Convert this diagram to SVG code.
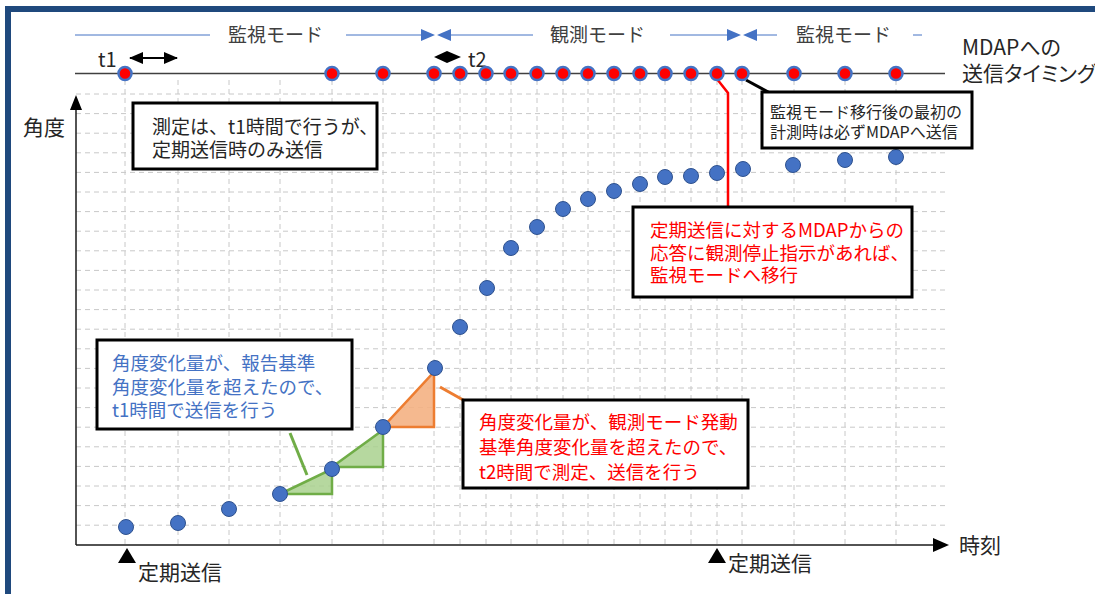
<svg xmlns="http://www.w3.org/2000/svg" width="1095" height="594" viewBox="0 0 1095 594">
<style>
text{font-family:"Noto Sans CJK JP","Noto Sans",sans-serif;}
.grid{stroke:#C8C8C8;stroke-width:1;stroke-dasharray:5 4;fill:none;}
.axis{stroke:#1a1a1a;stroke-width:1.5;fill:none;}
.mode{stroke:#4472C4;stroke-width:1;fill:none;}
.modearr{fill:#4472C4;}
.lbl{fill:#404040;font-size:19px;}
.box{fill:#fff;stroke:#000;stroke-width:3;}
.bd{fill:#4472C4;stroke:#2F528F;stroke-width:1;}
.rd{fill:#FF0000;stroke:#4472C4;stroke-width:2.5;}
.red{fill:#FF0000;font-size:18.5px;}
.blue{fill:#4472C4;font-size:18.5px;}
.blk{fill:#262626;}
</style>
<defs>
<marker id="ah" viewBox="0 0 14 12" refX="13" refY="6" markerWidth="14" markerHeight="12" markerUnits="userSpaceOnUse" orient="auto-start-reverse"><path d="M0,0 L14,6 L0,12 Z" fill="#000"/></marker>
</defs>
<g id="frame">
<rect x="5" y="6" width="1090" height="6" fill="#1F497D"/>
<rect x="5" y="6" width="6" height="588" fill="#1F497D"/>
</g>
<g id="grid">
<path class="grid" d="M76,94H947 M76,113.6H947 M76,133.2H947 M76,152.8H947 M76,172.4H947 M76,192H947 M76,211.6H947 M76,231.2H947 M76,250.8H947 M76,270.4H947 M76,290H947 M76,309.6H947 M76,329.2H947 M76,348.8H947 M76,368.4H947 M76,388H947 M76,407.6H947 M76,427.2H947 M76,446.8H947 M76,466.4H947 M76,486H947 M76,505.6H947 M76,525.2H947"/>
<path class="grid" d="M125,80V545 M178,80V545 M229,80V545 M280,80V545 M332,80V545 M383,80V545 M434,80V545 M460,80V545 M486,80V545 M511,80V545 M537,80V545 M563,80V545 M588,80V545 M614,80V545 M640,80V545 M665,80V545 M691,80V545 M717,80V545 M742,80V545 M794,80V545 M845,80V545 M896,80V545"/>
</g>
<g id="axes">
<path class="axis" d="M76,545V108"/>
<path d="M76,95 L70,110 L82,110 Z" fill="#000"/>
<path class="axis" d="M76,545H934"/>
<path d="M949,545 L933,538 L933,552 Z" fill="#000"/>
<path d="M75,73.5H945" stroke="#404040" stroke-width="1.5" fill="none"/>
</g>
<g id="modes">
<path class="mode" d="M75,35H210 M346,35H422 M450,35H533 M670,35H728 M756,35H777 M913,35H922"/>
<path class="modearr" d="M435,35 L421,29 L421,41 Z M437,35 L451,29 L451,41 Z M741,35 L727,29 L727,41 Z M743,35 L757,29 L757,41 Z"/>
<text class="lbl" x="228" y="42">監視モード</text>
<text class="lbl" x="550" y="42">観測モード</text>
<text class="lbl" x="796" y="42">監視モード</text>
</g>
<g id="t1">
<path d="M130,58H177" stroke="#000" stroke-width="2" marker-start="url(#ah)" marker-end="url(#ah)"/>
<text class="blk" x="98" y="67" font-size="20">t1</text>
</g>
<g id="t2">
<path d="M434,57 L447,51 L461,57 L447,63 Z" fill="#000"/>
<text class="blk" x="468" y="67" font-size="20">t2</text>
</g>
<g id="timing-label">
<text class="blk" x="962" y="55" font-size="21" style="font-feature-settings:'palt'">MDAPへの</text>
<text class="blk" x="962" y="81" font-size="21" style="font-feature-settings:'palt'">送信タイミング</text>
</g>
<g id="triangles">
<path d="M280,494 L332,494 L332,469 Z" fill="#A9D18E" fill-opacity="0.85" stroke="#70AD47" stroke-width="2.5"/>
<path d="M332,467 L383,467 L383,430 Z" fill="#A9D18E" fill-opacity="0.85" stroke="#70AD47" stroke-width="2.5"/>
<path d="M383,427 L434,427 L434,372 Z" fill="#F4B183" fill-opacity="0.9" stroke="#ED7D31" stroke-width="2.5"/>
</g>
<g id="connectors">
<path d="M717,79 L728,93 L728,207" stroke="#FF0000" stroke-width="2.5" fill="none"/>
<path d="M746,80 L772,94" stroke="#000" stroke-width="3" fill="none"/>
<path d="M290,433 L307,475" stroke="#70AD47" stroke-width="3" fill="none"/>
<path d="M440,387 L465,401" stroke="#ED7D31" stroke-width="3" fill="none"/>
</g>
<g id="timing-dots">
<circle class="rd" cx="125" cy="73.5" r="6.5"/>
<circle class="rd" cx="332" cy="73.5" r="6.5"/>
<circle class="rd" cx="383" cy="73.5" r="6.5"/>
<circle class="rd" cx="434" cy="73.5" r="6.5"/>
<circle class="rd" cx="460" cy="73.5" r="6.5"/>
<circle class="rd" cx="486" cy="73.5" r="6.5"/>
<circle class="rd" cx="511" cy="73.5" r="6.5"/>
<circle class="rd" cx="537" cy="73.5" r="6.5"/>
<circle class="rd" cx="563" cy="73.5" r="6.5"/>
<circle class="rd" cx="588" cy="73.5" r="6.5"/>
<circle class="rd" cx="614" cy="73.5" r="6.5"/>
<circle class="rd" cx="640" cy="73.5" r="6.5"/>
<circle class="rd" cx="665" cy="73.5" r="6.5"/>
<circle class="rd" cx="691" cy="73.5" r="6.5"/>
<circle class="rd" cx="717" cy="73.5" r="6.5"/>
<circle class="rd" cx="742" cy="73.5" r="6.5"/>
<circle class="rd" cx="794" cy="73.5" r="6.5"/>
<circle class="rd" cx="845" cy="73.5" r="6.5"/>
<circle class="rd" cx="896" cy="73.5" r="6.5"/>
</g>
<g id="angle-dots">
<circle class="bd" cx="126" cy="527" r="7.5"/>
<circle class="bd" cx="178" cy="523" r="7.5"/>
<circle class="bd" cx="229" cy="509" r="7.5"/>
<circle class="bd" cx="280" cy="494" r="7.5"/>
<circle class="bd" cx="332" cy="469" r="7.5"/>
<circle class="bd" cx="383" cy="427" r="7.5"/>
<circle class="bd" cx="435" cy="368" r="7.5"/>
<circle class="bd" cx="460" cy="327" r="7.5"/>
<circle class="bd" cx="487" cy="288" r="7.5"/>
<circle class="bd" cx="511" cy="248" r="7.5"/>
<circle class="bd" cx="537" cy="227" r="7.5"/>
<circle class="bd" cx="563" cy="209" r="7.5"/>
<circle class="bd" cx="588" cy="199" r="7.5"/>
<circle class="bd" cx="614" cy="191" r="7.5"/>
<circle class="bd" cx="640" cy="184" r="7.5"/>
<circle class="bd" cx="665" cy="177" r="7.5"/>
<circle class="bd" cx="691" cy="176" r="7.5"/>
<circle class="bd" cx="717" cy="173" r="7.5"/>
<circle class="bd" cx="743" cy="169" r="7.5"/>
<circle class="bd" cx="793" cy="165" r="7.5"/>
<circle class="bd" cx="845" cy="160" r="7.5"/>
<circle class="bd" cx="896" cy="157" r="7.5"/>
</g>
<g id="note-measure">
<rect class="box" x="133" y="103" width="244" height="66"/>
<text class="blk" x="152" y="134" font-size="19">測定は、t1時間で行うが、</text>
<text class="blk" x="152" y="157" font-size="19">定期送信時のみ送信</text>
</g>
<g id="note-first">
<rect class="box" x="762" y="92" width="210" height="56"/>
<text class="blk" x="770" y="118" font-size="16">監視モード移行後の最初の</text>
<text class="blk" x="770" y="138" font-size="16">計測時は必ずMDAPへ送信</text>
</g>
<g id="note-stop">
<rect class="box" x="633" y="207" width="279" height="90"/>
<text class="red" x="650" y="237">定期送信に対するMDAPからの</text>
<text class="red" x="650" y="260">応答に観測停止指示があれば、</text>
<text class="red" x="650" y="282">監視モードへ移行</text>
</g>
<g id="note-t1">
<rect class="box" x="97" y="340" width="255" height="89"/>
<text class="blue" x="112" y="370">角度変化量が、報告基準</text>
<text class="blue" x="112" y="394">角度変化量を超えたので、</text>
<text class="blue" x="112" y="417">t1時間で送信を行う</text>
</g>
<g id="note-t2">
<rect class="box" x="463" y="400" width="285" height="88"/>
<text class="red" x="479" y="429">角度変化量が、観測モード発動</text>
<text class="red" x="479" y="454">基準角度変化量を超えたので、</text>
<text class="red" x="479" y="479">t2時間で測定、送信を行う</text>
</g>
<g id="labels">
<text class="blk" x="23" y="135" font-size="21">角度</text>
<text class="blk" x="959" y="553" font-size="21">時刻</text>
<path d="M127,548 L118,563 L136,563 Z" fill="#000"/>
<text class="blk" x="138" y="580" font-size="21">定期送信</text>
<path d="M717,548 L708,563 L726,563 Z" fill="#000"/>
<text class="blk" x="728" y="571" font-size="21">定期送信</text>
</g>
</svg>
